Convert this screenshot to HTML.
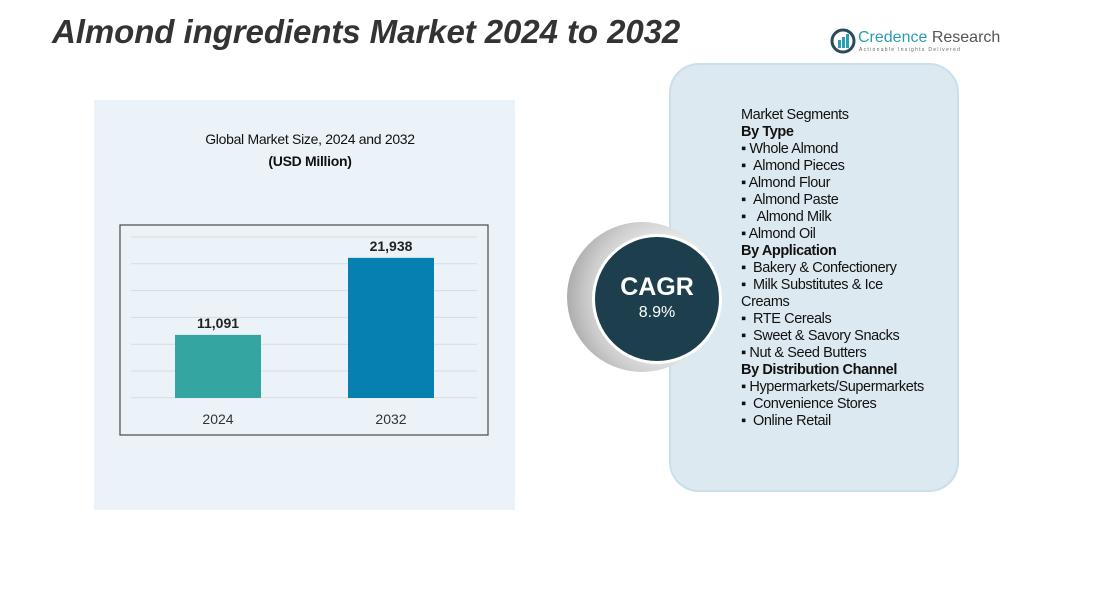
<!DOCTYPE html>
<html><head><meta charset="utf-8"><style>
body{margin:0;width:1097px;height:596px;overflow:hidden;background:#fff;font-family:"Liberation Sans",sans-serif;position:relative}
.abs{position:absolute}
#title{left:52px;top:13px;font-size:33px;font-weight:bold;font-style:italic;color:#333;letter-spacing:-0.07px}
#seg{left:741px;top:107px;font-size:14.5px;line-height:17px;color:#111;letter-spacing:-0.4px}
#seg b{font-weight:bold}
</style></head><body>
<div class="abs" style="left:94px;top:100px;width:421px;height:410px;background:#ebf3f9"></div>
<div class="abs" id="title">Almond ingredients Market 2024 to 2032</div>
<div class="abs" style="left:830px;top:28px;">
<svg width="26" height="26"><circle cx="13" cy="13" r="11" fill="none" stroke="#2d4a5a" stroke-width="3"/><rect x="8" y="12" width="3" height="8" fill="#2a9db4"/><rect x="12" y="9" width="3" height="11" fill="#2a9db4"/><rect x="16" y="6" width="3" height="14" fill="#2a9db4"/></svg>
<div class="abs" style="left:28px;top:1px;font-size:16px;color:#2a9db4;white-space:nowrap">Credence <span style="color:#555">Research</span></div>
<div class="abs" style="left:29px;top:19px;font-size:5px;color:#666;letter-spacing:1.3px;white-space:nowrap">Actionable Insights Delivered</div>
</div>
<div class="abs" style="left:669px;top:63px;width:286px;height:425px;border-radius:30px;background:#dde9f1;border:2px solid #c9e0ea"></div>
<div class="abs" style="left:567px;top:222px;width:150px;height:150px;border-radius:50%;background:radial-gradient(circle at 70% 50%,#fff 30%,#ccc 65%,#888 100%)"></div>
<div class="abs" style="left:592px;top:234px;width:124px;height:124px;border-radius:50%;background:#1d3f4d;border:3px solid #fff;color:#fff;text-align:center">
<div style="margin-top:36px;font-size:25px;font-weight:bold">CAGR</div><div style="font-size:16px;margin-top:2px">8.9%</div></div>
<div class="abs" id="seg">Market Segments<br><b>By Type</b><br>▪ Whole Almond<br>▪ &nbsp;Almond Pieces<br>▪ Almond Flour<br>▪ &nbsp;Almond Paste<br>▪ &nbsp;&nbsp;Almond Milk<br>▪ Almond Oil<br><b>By Application</b><br>▪ &nbsp;Bakery &amp; Confectionery<br>▪ &nbsp;Milk Substitutes &amp; Ice<br>Creams<br>▪ &nbsp;RTE Cereals<br>▪ &nbsp;Sweet &amp; Savory Snacks<br>▪ Nut &amp; Seed Butters<br><b>By Distribution Channel</b><br>▪ Hypermarkets/Supermarkets<br>▪ &nbsp;Convenience Stores<br>▪ &nbsp;Online Retail</div>
<div class="abs" style="left:150px;top:128px;width:320px;text-align:center;font-size:14px;color:#111;line-height:22px;letter-spacing:-0.3px">Global Market Size, 2024 and 2032<br><b>(USD Million)</b></div>
<svg class="abs" id="chart" style="left:0;top:0" width="1097" height="596"></svg>
<script>
const categories=["2024","2032"];
const values=[11091,21938];
const valueLabels=["11,091","21,938"];
const colors=["#35a5a2","#0580b0"];
const svg=document.getElementById('chart');const NS="http://www.w3.org/2000/svg";
const base=398,vmin=2200,k=0.0071;
function y(v){return base-(v-vmin)*k;}
function x(i){return 175+i*173;}
function mk(t,a){const e=document.createElementNS(NS,t);for(const q in a)e.setAttribute(q,a[q]);svg.appendChild(e);return e;}
const fr=mk('rect',{x:120,y:225,width:368,height:210,fill:'none',stroke:'#555','stroke-width':1.3});


for(let g=0;g<7;g++){const l=mk('line',{x1:131,x2:477,y1:237+g*26.8,y2:237+g*26.8,stroke:'#d5dde3'});

}
categories.forEach((c,i)=>{
const b=mk('rect',{x:x(i),y:y(values[i]),width:86,height:base-y(values[i]),fill:colors[i]});


const t=mk('text',{x:x(i)+43,y:y(values[i])-7,'text-anchor':'middle','font-size':14,'font-weight':'bold',fill:'#222','font-family':'Liberation Sans'});t.textContent=valueLabels[i];


const xl=mk('text',{x:x(i)+43,y:424,'text-anchor':'middle','font-size':14,fill:'#333','font-family':'Liberation Sans'});xl.textContent=c;


});
</script>
</body></html>
